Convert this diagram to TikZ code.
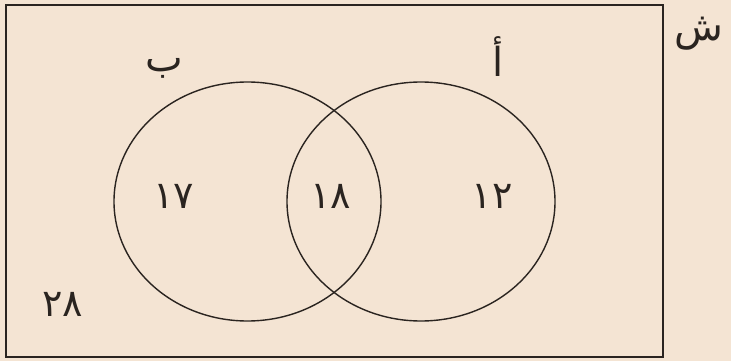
\documentclass[tikz,border=0pt]{standalone}
\usepackage{fontspec}
\newfontfamily\arabicfont[Script=Arabic]{DejaVu Sans}
\TeXXeTstate=1
\definecolor{bg}{HTML}{F4E4D3}
\definecolor{ink}{HTML}{2A2420}
\begin{document}
\begin{tikzpicture}[x=1pt,y=-1pt,
  setline/.style={draw=ink,line width=1.4pt},
  lbl/.style={text=ink,inner sep=0pt,font=\arabicfont\fontsize{40}{44}\selectfont},
  num/.style={text=ink,inner sep=0pt,font=\arabicfont\fontsize{38}{42}\selectfont}]
\fill[bg] (0,0) rectangle (731,361);
\useasboundingbox (0,0) rectangle (731,361);
\draw[draw=ink,line width=1.8pt] (6,5) rectangle (663,357);
\draw[setline] (247.5,201.5) ellipse [x radius=133.5,y radius=119.5];
\draw[setline] (421,201.5) ellipse [x radius=134,y radius=119.5];
\node[lbl] (S) at (699,34) {\beginR ش\endR};
\node[lbl] (B) at (164,68) {\beginR ب\endR};
\node[lbl] (A) at (498,57) {\beginR أ\endR};
\node[num] (n17) at (174,196) {١٧};
\node[num] (n18) at (331,196) {١٨};
\node[num] (n12) at (492,196) {١٢};
\node[num] (n28) at (63,304) {٢٨};
\end{tikzpicture}
\end{document}
